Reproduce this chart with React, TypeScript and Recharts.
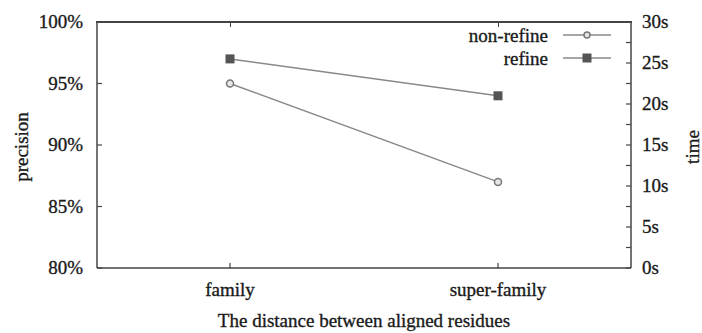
import { LineChart, Line, XAxis, YAxis, Legend, Label } from "recharts";

const categories = ["family", "super-family"];
const nonRefine = [95, 87];
const refine = [97, 94];
const precisionTicks = [80, 85, 90, 95, 100];
const timeTicks = [0, 2.5, 5, 7.5, 10, 12.5, 15, 17.5, 20, 22.5, 25, 27.5, 30];
const seriesNames = ["non-refine", "refine"];

const data = categories.map((name, i) => ({
  name,
  nonRefine: nonRefine[i],
  refine: refine[i]
}));

const W = 702;
const H = 333;
const MARGIN = { top: 22, right: 21, bottom: 25, left: 37 };
const LEFT_W = 60;
const RIGHT_W = 50;
const PAD = 133;

const FONT = "'Liberation Serif', 'Times New Roman', serif";
const TEXT = "#1a1a1a";
const AXIS = "#444";
const LINE = "#888";

const txt = { fontFamily: FONT, fontSize: 19, fill: TEXT, stroke: TEXT, strokeWidth: 0.35 };

const LeftTick = ({ x, y, payload }: any) => (
  <g>
    <line x1={x + 14} x2={x + 19} y1={y} y2={y} stroke={AXIS} strokeWidth={1.2} />
    <text x={x} y={y} dy="0.33em" textAnchor="end" {...txt}>
      {payload.value}%
    </text>
  </g>
);

const RightTick = ({ x, y, payload }: any) => (
  <g>
    <line x1={x - 11} x2={x - 16} y1={y} y2={y} stroke={AXIS} strokeWidth={1.2} />
    {payload.value % 5 === 0 && (
      <text x={x} y={y} dy="0.33em" textAnchor="start" {...txt}>
        {payload.value}s
      </text>
    )}
  </g>
);

const BottomTick = ({ x, y, payload }: any) => (
  <g>
    <line x1={x} x2={x} y1={y - 15} y2={y - 20} stroke={AXIS} strokeWidth={1.2} />
    <text x={x} y={y} dy="0.7em" textAnchor="middle" {...txt}>
      {payload.value}
    </text>
  </g>
);

const CircleDot = ({ cx, cy, index }: any) => (
  <circle key={`c-${index}`} cx={cx} cy={cy} r={3.5} fill="#e6e6e6" stroke="#777" strokeWidth={1.5} />
);

const SquareDot = ({ cx, cy, index }: any) => (
  <rect key={`s-${index}`} x={cx - 4.5} y={cy - 4.5} width={9} height={9} fill="#555" />
);

const LegendBox = () => (
  <svg width={W} height={80}>
    {seriesNames.map((name, i) => {
      const cy = 35 + i * 23;
      return (
        <g key={name}>
          <text x={548} y={cy + 6.5} textAnchor="end" {...txt}>
            {name}
          </text>
          <line x1={563} x2={611} y1={cy} y2={cy} stroke={LINE} strokeWidth={1.5} />
          {i === 0 ? (
            <circle cx={587} cy={cy} r={3} fill="#e6e6e6" stroke="#777" strokeWidth={1.5} />
          ) : (
            <rect x={582.5} y={cy - 4.5} width={9} height={9} fill="#555" />
          )}
        </g>
      );
    })}
  </svg>
);

// top edge of the plot frame, drawn as plain html so it sits above everything
const TopBorder = () => {
  const x0 = MARGIN.left + LEFT_W;
  const x1 = W - MARGIN.right - RIGHT_W;
  const y = MARGIN.top;
  const step = categories.length > 1 ? (x1 - x0 - 2 * PAD) / (categories.length - 1) : 0;
  return (
    <>
      <div
        style={{
          position: "absolute",
          left: x0 - 1,
          top: y - 1,
          width: x1 - x0 + 2,
          height: 0,
          borderTop: "2px solid #444",
          zIndex: 10,
          pointerEvents: "none"
        }}
      />
      {categories.map((c, i) => (
        <div
          key={c}
          style={{
            position: "absolute",
            left: x0 + PAD + i * step - 0.5,
            top: y,
            width: 0,
            height: 5,
            borderLeft: "1px solid #444",
            zIndex: 10,
            pointerEvents: "none"
          }}
        />
      ))}
    </>
  );
};

export default function App() {
  return (
    <div style={{ position: "absolute", left: 0, top: 0, width: W, height: H, background: "#fff" }}>
      <LineChart width={W} height={H} data={data} margin={MARGIN}>
        <XAxis
          dataKey="name"
          height={40}
          padding={{ left: PAD, right: PAD }}
          tickSize={0}
          tickMargin={15}
          tick={BottomTick}
          axisLine={{ stroke: AXIS, strokeWidth: 1.5 }}
          tickLine={false}
        >
          <Label
            content={({ viewBox }: any) => (
              <text x={viewBox.x + viewBox.width / 2} y={viewBox.y + 59} textAnchor="middle" {...txt}>
                The distance between aligned residues
              </text>
            )}
          />
        </XAxis>
        <YAxis
          yAxisId="left"
          width={LEFT_W}
          domain={[80, 100]}
          ticks={precisionTicks}
          tickSize={0}
          tickMargin={14}
          tick={LeftTick}
          axisLine={{ stroke: AXIS, strokeWidth: 1.5 }}
          tickLine={false}
          interval={0}
        >
          <Label
            content={({ viewBox }: any) => {
              const cx = viewBox.x - 15;
              const cy = viewBox.y + viewBox.height / 2 + 2;
              return (
                <text x={cx} y={cy} transform={`rotate(-90 ${cx} ${cy})`} dy="0.3em" textAnchor="middle" {...txt}>
                  precision
                </text>
              );
            }}
          />
        </YAxis>
        <YAxis
          yAxisId="right"
          orientation="right"
          width={RIGHT_W}
          type="number"
          domain={[0, 30]}
          allowDataOverflow
          ticks={timeTicks}
          tickSize={0}
          tickMargin={11}
          tick={RightTick}
          axisLine={{ stroke: AXIS, strokeWidth: 1.5 }}
          tickLine={false}
          interval={0}
        >
          <Label
            content={({ viewBox }: any) => {
              const cx = viewBox.x + viewBox.width + 12;
              const cy = viewBox.y + viewBox.height / 2 + 2;
              return (
                <text x={cx} y={cy} transform={`rotate(-90 ${cx} ${cy})`} dy="0.3em" textAnchor="middle" {...txt}>
                  time
                </text>
              );
            }}
          />
        </YAxis>
        <Legend
          layout="vertical"
          align="center"
          verticalAlign="middle"
          content={LegendBox}
          wrapperStyle={{ position: "absolute", left: 0, top: 0, width: W, height: 80, pointerEvents: "none" }}
        />
        <Line
          yAxisId="left"
          dataKey="nonRefine"
          name={seriesNames[0]}
          stroke={LINE}
          strokeWidth={1.5}
          dot={CircleDot}
          activeDot={false}
          isAnimationActive={false}
        />
        <Line
          yAxisId="left"
          dataKey="refine"
          name={seriesNames[1]}
          stroke={LINE}
          strokeWidth={1.5}
          dot={SquareDot}
          activeDot={false}
          isAnimationActive={false}
        />
      </LineChart>
      <TopBorder />
    </div>
  );
}
